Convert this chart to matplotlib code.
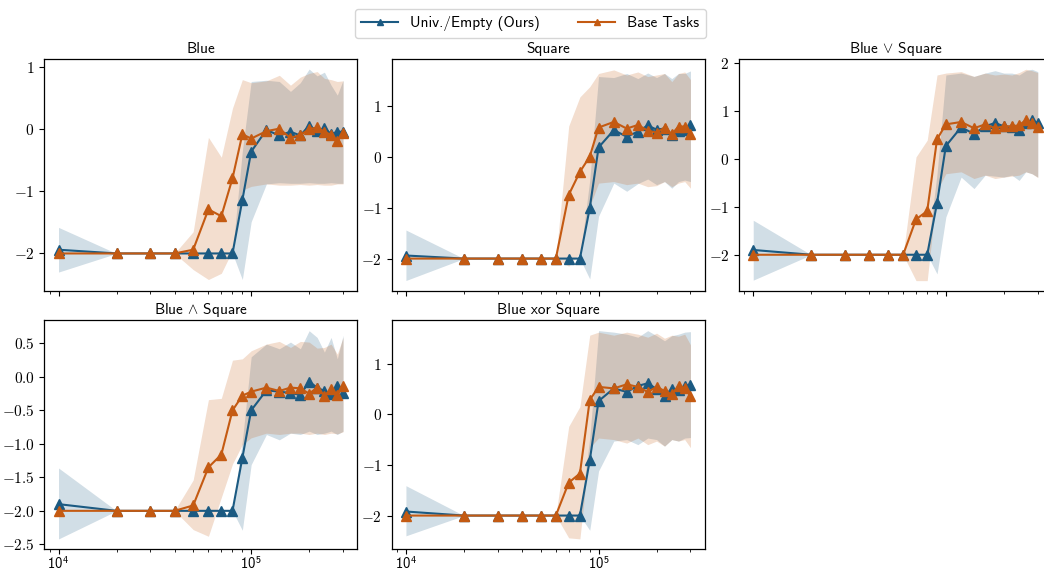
import numpy as np
import matplotlib
matplotlib.use("Agg")
import matplotlib.pyplot as plt
from matplotlib.ticker import FuncFormatter, FixedLocator

plt.rcParams['mathtext.fontset'] = 'cm'
plt.rcParams['font.family'] = ['cmss10', 'DejaVu Sans']
plt.rcParams['axes.unicode_minus'] = True

steps = [1e4, 2e4, 3e4, 4e4, 5e4, 6e4, 7e4, 8e4, 9e4, 1e5,
         1.2e5, 1.4e5, 1.6e5, 1.8e5, 2.0e5, 2.2e5, 2.4e5, 2.6e5, 2.8e5, 3.0e5]

titles = ["Blue", r"Square", r"Blue $\vee$ Square", r"Blue $\wedge$ Square", "Blue xor Square"]
series_names = ["Univ./Empty (Ours)", "Base Tasks"]

# ---- Blue ----
blue_univ = [-1.94, -2, -2, -2, -2, -2, -2, -2, -1.14, -0.36,
             -0.01, -0.10, -0.04, -0.10, 0.06, -0.03, 0.02, -0.08, -0.04, -0.04]
blue_univ_lo = [-2.30, -2, -2, -2, -2, -2, -2, -2, -2.42, -1.49,
                -0.88, -0.86, -0.87, -0.87, -0.86, -0.87, -0.87, -0.86, -0.87, -0.87]
blue_univ_hi = [-1.58, -2, -2, -2, -2, -2, -2, -2, -0.35, 0.77,
                0.79, 0.77, 0.61, 0.75, 0.97, 0.86, 0.92, 0.71, 0.55, 0.79]
blue_base = [-2, -2, -2, -2, -1.94, -1.29, -1.40, -0.79, -0.08, -0.15,
             -0.03, 0.01, -0.14, -0.09, 0.0, 0.03, -0.04, -0.09, -0.19, -0.06]
blue_base_lo = [-2, -2, -2, -2, -2.26, -2.42, -2.32, -1.95, -0.98, -0.92,
                -0.88, -0.90, -0.90, -0.89, -0.90, -0.89, -0.90, -0.90, -0.88, -0.88]
blue_base_hi = [-2, -2, -2, -2, -1.65, -0.13, -0.45, 0.34, 0.80, 0.75,
                0.78, 0.87, 0.71, 0.84, 0.90, 0.93, 0.82, 0.80, 0.77, 0.78]

# ---- Square ----
sq_univ = [-1.94, -2, -2, -2, -2, -2, -2, -2, -1.01, 0.18,
           0.52, 0.39, 0.49, 0.61, 0.53, 0.55, 0.42, 0.51, 0.52, 0.62]
sq_univ_lo = [-2.43, -2, -2, -2, -2, -2, -2, -2, -2.40, -1.17,
              -0.52, -0.68, -0.53, -0.44, -0.55, -0.49, -0.62, -0.49, -0.46, -0.49]
sq_univ_hi = [-1.44, -2, -2, -2, -2, -2, -2, -2, -0.46, 1.57,
              1.55, 1.63, 1.53, 1.64, 1.55, 1.63, 1.53, 1.63, 1.63, 1.68]
sq_base = [-2, -2, -2, -2, -2, -2, -0.75, -0.30, 0.0, 0.57,
           0.68, 0.55, 0.62, 0.51, 0.47, 0.57, 0.44, 0.59, 0.59, 0.44]
sq_base_lo = [-2, -2, -2, -2, -2, -2, -2.15, -1.89, -0.98, -0.52,
              -0.49, -0.55, -0.52, -0.59, -0.57, -0.49, -0.59, -0.52, -0.49, -0.62]
sq_base_hi = [-2, -2, -2, -2, -2, -2, 0.60, 1.17, 1.37, 1.63,
              1.70, 1.60, 1.66, 1.57, 1.60, 1.63, 1.47, 1.63, 1.66, 1.51]

# ---- Blue OR Square ----
or_univ = [-1.90, -2, -2, -2, -2, -2, -2, -2, -0.92, 0.27,
           0.66, 0.52, 0.68, 0.75, 0.68, 0.66, 0.60, 0.75, 0.81, 0.74]
or_univ_lo = [-2.53, -2, -2, -2, -2, -2, -2, -2, -2.40, -1.21,
              -0.38, -0.62, -0.34, -0.36, -0.38, -0.34, -0.45, -0.27, -0.31, -0.38]
or_univ_hi = [-1.28, -2, -2, -2, -2, -2, -2, -2, -0.31, 1.75,
              1.79, 1.72, 1.79, 1.84, 1.79, 1.79, 1.75, 1.84, 1.87, 1.82]
or_base = [-2, -2, -2, -2, -2, -2, -1.26, -1.09, 0.41, 0.72,
           0.77, 0.64, 0.72, 0.64, 0.68, 0.68, 0.70, 0.81, 0.75, 0.67]
or_base_lo = [-2, -2, -2, -2, -2, -2, -2.54, -2.54, -0.66, -0.31,
              -0.27, -0.41, -0.34, -0.41, -0.38, -0.36, -0.34, -0.27, -0.31, -0.39]
or_base_hi = [-2, -2, -2, -2, -2, -2, 0.04, 0.39, 1.75, 1.79,
              1.82, 1.72, 1.79, 1.75, 1.77, 1.75, 1.80, 1.87, 1.84, 1.80]

# ---- Blue AND Square ----
and_univ = [-1.90, -2, -2, -2, -2, -2, -2, -2, -1.21, -0.50,
            -0.20, -0.22, -0.24, -0.27, -0.07, -0.16, -0.21, -0.26, -0.13, -0.24]
and_univ_lo = [-2.42, -2, -2, -2, -2, -2, -2, -2, -2.29, -1.31,
               -0.86, -0.94, -0.84, -0.86, -0.81, -0.86, -0.84, -0.81, -0.86, -0.81]
and_univ_hi = [-1.36, -2, -2, -2, -2, -2, -2, -2, -0.96, 0.30,
               0.49, 0.42, 0.52, 0.42, 0.69, 0.59, 0.37, 0.59, 0.27, 0.62]
and_base = [-2, -2, -2, -2, -1.92, -1.35, -1.16, -0.50, -0.28, -0.22,
            -0.16, -0.21, -0.16, -0.17, -0.25, -0.16, -0.28, -0.18, -0.27, -0.13]
and_base_lo = [-2, -2, -2, -2, -2.28, -2.38, -1.80, -1.30, -1.01, -0.91,
               -0.84, -0.86, -0.84, -0.84, -0.86, -0.84, -0.86, -0.84, -0.85, -0.82]
and_base_hi = [-2, -2, -2, -2, -1.54, -0.34, -0.32, 0.25, 0.27, 0.39,
               0.49, 0.53, 0.44, 0.53, 0.52, 0.43, 0.44, 0.49, 0.34, 0.59]

# ---- Blue XOR Square ----
xor_univ = [-1.92, -2, -2, -2, -2, -2, -2, -2, -0.91, 0.26,
            0.51, 0.44, 0.56, 0.61, 0.50, 0.36, 0.50, 0.48, 0.56, 0.57]
xor_univ_lo = [-2.40, -2, -2, -2, -2, -2, -2, -2, -2.29, -1.12,
               -0.53, -0.50, -0.60, -0.47, -0.50, -0.63, -0.50, -0.53, -0.47, -0.46]
xor_univ_hi = [-1.41, -2, -2, -2, -2, -2, -2, -2, -0.47, 1.65,
               1.62, 1.58, 1.52, 1.65, 1.55, 1.45, 1.55, 1.58, 1.62, 1.63]
xor_base = [-2, -2, -2, -2, -2, -2, -1.35, -1.17, 0.28, 0.54,
            0.51, 0.59, 0.54, 0.44, 0.54, 0.46, 0.39, 0.56, 0.51, 0.36]
xor_base_lo = [-2, -2, -2, -2, -2, -2, -2.44, -2.46, -0.66, -0.47,
               -0.50, -0.57, -0.47, -0.60, -0.53, -0.63, -0.50, -0.53, -0.50, -0.66]
xor_base_hi = [-2, -2, -2, -2, -2, -2, -0.24, 0.15, 1.56, 1.62,
               1.56, 1.62, 1.58, 1.52, 1.60, 1.50, 1.56, 1.54, 1.58, 1.37]

panels = [
    (blue_univ, blue_univ_lo, blue_univ_hi, blue_base, blue_base_lo, blue_base_hi),
    (sq_univ, sq_univ_lo, sq_univ_hi, sq_base, sq_base_lo, sq_base_hi),
    (or_univ, or_univ_lo, or_univ_hi, or_base, or_base_lo, or_base_hi),
    (and_univ, and_univ_lo, and_univ_hi, and_base, and_base_lo, and_base_hi),
    (xor_univ, xor_univ_lo, xor_univ_hi, xor_base, xor_base_lo, xor_base_hi),
]
ylims = [(-2.60, 1.137), (-2.63, 1.92), (-2.75, 2.09), (-2.57, 0.85), (-2.66, 1.86)]
yticks = [[-2, -1, 0, 1], [-2, -1, 0, 1], [-2, -1, 0, 1, 2],
          [-2.5, -2.0, -1.5, -1.0, -0.5, 0.0, 0.5], [-2, -1, 0, 1]]
ydec = [0, 0, 0, 1, 0]

c_univ = '#1b5a82'
c_base = '#c45a12'

W, H = 1044, 573
fig = plt.figure(figsize=(W / 100, H / 100), dpi=100)
col_left = [44.3, 391.7, 739.0]
row_top = [58.7, 320.0]
row_h = [232.0, 229.0]
aw = 313.0


def make_fmt(nd):
    def f(v, pos):
        s = ('%.' + str(nd) + 'f') % abs(v)
        if v < 0 and float(s) != 0:
            return r'$-%s$' % s
        return r'$%s$' % s
    return FuncFormatter(f)


axes = []
first = None
for i in range(5):
    r, c = divmod(i, 3)
    rect = [col_left[c] / W, 1 - (row_top[r] + row_h[r]) / H, aw / W, row_h[r] / H]
    ax = fig.add_axes(rect, sharex=first)
    if first is None:
        first = ax
    axes.append(ax)

x = np.array(steps)
for i, ax in enumerate(axes):
    u, ulo, uhi, b, blo, bhi = [np.array(a) for a in panels[i]]
    ax.fill_between(x, ulo, uhi, color=c_univ, alpha=0.2, linewidth=0)
    ax.fill_between(x, blo, bhi, color=c_base, alpha=0.2, linewidth=0)
    ax.plot(x, u, color=c_univ, marker='^', markersize=6.5, linewidth=1.5, label=series_names[0])
    ax.plot(x, b, color=c_base, marker='^', markersize=6.5, linewidth=1.5, label=series_names[1])
    ax.set_xscale('log')
    ax.set_ylim(*ylims[i])
    ax.yaxis.set_major_locator(FixedLocator(yticks[i]))
    ax.yaxis.set_major_formatter(make_fmt(ydec[i]))
    ax.set_title(titles[i], fontsize=11, pad=4)
    ax.tick_params(axis='both', which='both', direction='out', top=False, right=False, labelsize=11)
    ax.tick_params(axis='x', which='both', labelsize=10.5, pad=1)
    ax.tick_params(axis='both', which='major', length=3.5, width=0.8)
    ax.tick_params(axis='x', which='minor', length=2, width=0.6)
    for s in ax.spines.values():
        s.set_color('black')
        s.set_linewidth(0.9)
    if i < 3:
        ax.tick_params(axis='x', which='both', labelbottom=False)

handles, labels = axes[0].get_legend_handles_labels()
fig.legend(handles, labels, loc='upper center', bbox_to_anchor=(0.508, 0.997), ncol=2,
           fontsize=11, frameon=True, fancybox=True, edgecolor='#cccccc',
           handlelength=2.4, columnspacing=2.5, borderpad=0.45, markerscale=0.75)

fig.savefig('out.png', dpi=100)
